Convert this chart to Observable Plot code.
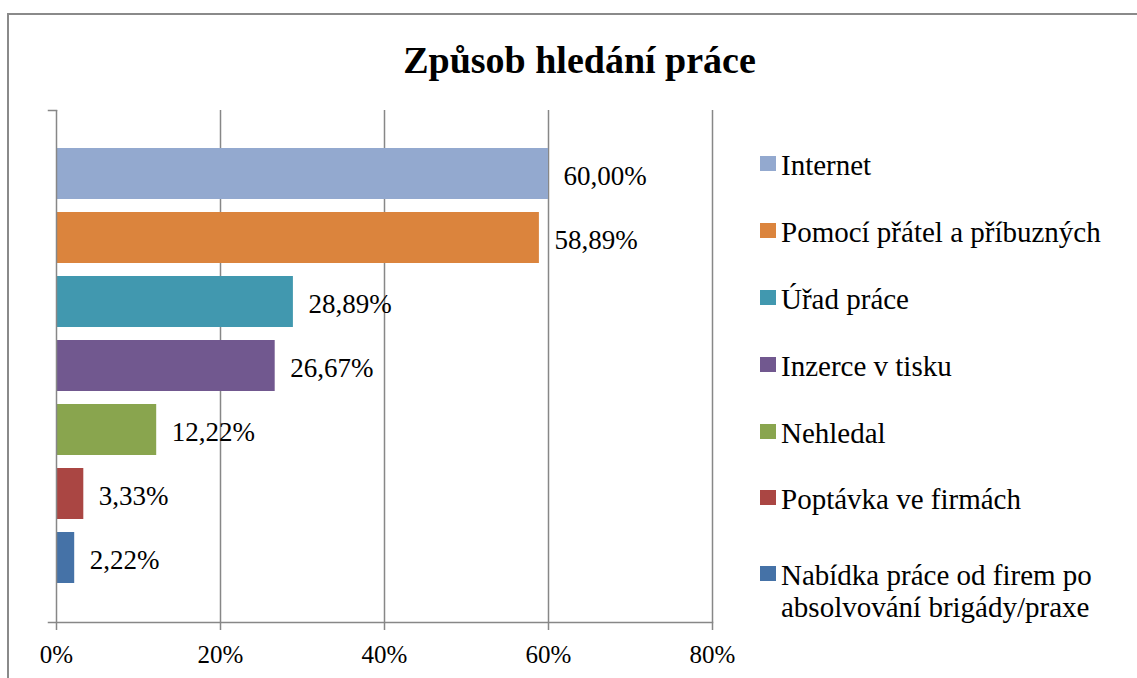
<!DOCTYPE html>
<html>
<head>
<meta charset="utf-8">
<script src="https://cdn.jsdelivr.net/npm/d3@7"></script>
<script src="https://cdn.jsdelivr.net/npm/@observablehq/plot@0.6"></script>
<style>
  html, body { margin: 0; padding: 0; background: #fff; }
  body { width: 1137px; height: 678px; overflow: hidden; position: relative; font-family: "Liberation Serif", "Times New Roman", serif; }
  #border { position: absolute; left: 7px; top: 13px; width: 1150px; height: 720px; border: 2px solid #8a8a8a; box-sizing: border-box; }
  #title { position: absolute; left: 0; top: 41px; width: 1159px; text-align: center; font-weight: bold; font-size: 38px; line-height: 38px; color: #000; }
  #chart { position: absolute; left: 0; top: 0; }
  #legend { position: absolute; left: 760px; top: 149px; }
  .item { display: flex; align-items: flex-start; }
  .sw { width: 16px; height: 15px; margin-top: 7px; margin-right: 5px; flex: none; }
  .lab { font-size: 29px; line-height: 32px; max-width: 345px; color: #000; }
</style>
</head>
<body>
<div id="border"></div>
<div id="title">Způsob hledání práce</div>
<div id="chart"></div>
<div id="legend"></div>
<script>
const categories = [
  "Internet",
  "Pomocí přátel a příbuzných",
  "Úřad práce",
  "Inzerce v tisku",
  "Nehledal",
  "Poptávka ve firmách",
  "Nabídka práce od firem po absolvování brigády/praxe"
];
const values = [60.00, 58.89, 28.89, 26.67, 12.22, 3.33, 2.22];
const colors = ["#93A9CF", "#DB843D", "#4198AF", "#71588F", "#89A54E", "#AA4643", "#4572A7"];
const xTicks = [0, 20, 40, 60, 80];

const data = categories.map((c, i) => ({category: c, value: values[i]}));
const fmt = v => v.toFixed(2).replace(".", ",") + "%";
const serif = "Liberation Serif, Times New Roman, serif";
const gray = "#878787";

const chart = Plot.plot({
  width: 760,
  height: 678,
  marginLeft: 56,
  marginRight: 48,
  marginTop: 110,
  marginBottom: 56,
  style: {background: "transparent", fontFamily: serif, overflow: "visible"},
  x: {domain: [0, 80], ticks: xTicks, tickFormat: d => d + "%", label: null},
  y: {domain: categories, range: [141.6, 590.3], paddingInner: 0.2, paddingOuter: 0.1, axis: null},
  color: {domain: categories, range: colors},
  marks: [
    Plot.gridX(xTicks.slice(1), {stroke: gray, strokeOpacity: 1, strokeWidth: 1.5}),
    Plot.barX(data, {x: "value", y: "category", fill: "category"}),
    Plot.ruleX([0], {stroke: gray, strokeWidth: 1.5}),
    Plot.frame({anchor: "bottom", stroke: gray, strokeWidth: 1.5, insetLeft: -8}),
    Plot.frame({anchor: "top", stroke: gray, strokeWidth: 1.5, insetLeft: -8, insetRight: 656}),
    Plot.axisX({ticks: xTicks, tickFormat: d => d + "%", label: null, tickSize: 8, tickPadding: 15, fontSize: 25, fontFamily: serif, stroke: gray, strokeWidth: 1.5, fill: "#000"}),
    Plot.text(data, {x: "value", y: "category", text: d => fmt(d.value), textAnchor: "start", dx: 15, dy: 2, fontSize: 27, fontFamily: serif, fill: "#000"})
  ]
});
document.getElementById("chart").appendChild(chart);

const legend = document.getElementById("legend");
categories.forEach((c, i) => {
  const item = document.createElement("div");
  item.className = "item";
  if (i > 0) item.style.marginTop = (i === categories.length - 1 ? 43.7 : 34.9) + "px";
  const sw = document.createElement("div");
  sw.className = "sw";
  sw.style.background = colors[i];
  const lab = document.createElement("div");
  lab.className = "lab";
  lab.textContent = c;
  item.appendChild(sw);
  item.appendChild(lab);
  legend.appendChild(item);
});
</script>
</body>
</html>
